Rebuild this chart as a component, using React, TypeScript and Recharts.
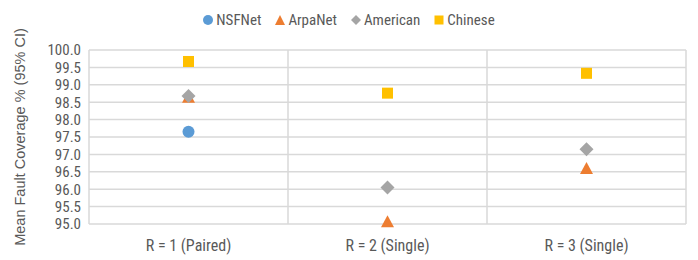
import React from 'react';
import { ScatterChart, Scatter, XAxis, YAxis, CartesianGrid, ReferenceLine } from 'recharts';

const categories = ['R = 1 (Paired)', 'R = 2 (Single)', 'R = 3 (Single)'];
const catPos = [0.5, 1.5, 2.5];
const yTicks = [95, 95.5, 96, 96.5, 97, 97.5, 98, 98.5, 99, 99.5, 100];

const nsfnet = [97.65];
const arpanet = [98.63, 95.05, 96.58];
const american = [98.68, 96.05, 97.15];
const chinese = [99.67, 98.76, 99.33];

const toPoints = (vals: number[]) => vals.map((v, i) => ({ x: catPos[i], y: v }));

const FONT = '"Liberation Sans Narrow", "Roboto Condensed", "Liberation Sans", sans-serif';
const WIDE = '"Liberation Sans", Arial, sans-serif';
const TEXT = '#595959';
const GRID = '#D9D9D9';

const colors = { nsf: '#5B9BD5', arpa: '#ED7D31', amer: '#A5A5A5', chn: '#FFC000' };

const CircleShape = (p: any) => <circle cx={p.cx} cy={p.cy} r={6} fill={colors.nsf} />;
const TriangleShape = (p: any) => (
  <polygon points={`${p.cx},${p.cy - 7} ${p.cx + 6.5},${p.cy + 5} ${p.cx - 6.5},${p.cy + 5}`} fill={colors.arpa} />
);
const DiamondShape = (p: any) => (
  <polygon points={`${p.cx},${p.cy - 7} ${p.cx + 7},${p.cy} ${p.cx},${p.cy + 7} ${p.cx - 7},${p.cy}`} fill={colors.amer} />
);
const SquareShape = (p: any) => <rect x={p.cx - 5.5} y={p.cy - 5.5} width={11} height={11} fill={colors.chn} />;

const legendItems = [
  { name: 'NSFNet', icon: <circle cx={5} cy={5} r={5} fill={colors.nsf} /> },
  { name: 'ArpaNet', icon: <polygon points="5,0 10,10 0,10" fill={colors.arpa} /> },
  { name: 'American', icon: <polygon points="5,0 10,5 5,10 0,5" fill={colors.amer} /> },
  { name: 'Chinese', icon: <rect x={0.5} y={0.5} width={9} height={9} fill={colors.chn} /> },
];

export default function App() {
  return (
    <div style={{ position: 'absolute', left: 0, top: 0, width: 698, height: 260, background: '#fff', fontFamily: FONT }}>
      <div style={{ position: 'absolute', top: 11, left: 0, width: 698, display: 'flex', justifyContent: 'center', gap: 14, fontSize: 15, color: TEXT }}>
        {legendItems.map((it) => (
          <span key={it.name} style={{ display: 'flex', alignItems: 'center', gap: 3 }}>
            <svg width={10} height={10}>{it.icon}</svg>
            {it.name}
          </span>
        ))}
      </div>
      <ScatterChart width={698} height={260} margin={{ top: 50, right: 12, bottom: 0, left: 0 }}>
        <CartesianGrid vertical={false} stroke={GRID} strokeWidth={1.5} />
        <XAxis
          type="number"
          dataKey="x"
          domain={[0, 3]}
          ticks={catPos}
          interval={0}
          tickFormatter={(v: number) => categories[Math.floor(v)]}
          axisLine={false}
          tickLine={false}
          height={36}
          tickMargin={10}
          tick={{ fill: TEXT, fontSize: 16, fontFamily: FONT }}
        />
        <YAxis
          type="number"
          dataKey="y"
          domain={[95, 100]}
          ticks={yTicks}
          interval={0}
          tickFormatter={(v: number) => v.toFixed(1)}
          axisLine={false}
          tickLine={false}
          width={89}
          tick={{ fill: TEXT, fontSize: 15, fontFamily: FONT }}
          label={{
            value: 'Mean Fault Coverage % (95% CI)',
            angle: -90,
            position: 'insideLeft',
            offset: 20,
            style: { textAnchor: 'middle', fill: TEXT, fontSize: 14.5, fontFamily: WIDE },
          }}
        />
        {[0, 1, 2, 3].map((x) => (
          <ReferenceLine key={x} x={x} stroke={GRID} strokeWidth={1.5} />
        ))}
        <Scatter name="NSFNet" data={toPoints(nsfnet)} shape={CircleShape} isAnimationActive={false} />
        <Scatter name="ArpaNet" data={toPoints(arpanet)} shape={TriangleShape} isAnimationActive={false} />
        <Scatter name="American" data={toPoints(american)} shape={DiamondShape} isAnimationActive={false} />
        <Scatter name="Chinese" data={toPoints(chinese)} shape={SquareShape} isAnimationActive={false} />
      </ScatterChart>
    </div>
  );
}
